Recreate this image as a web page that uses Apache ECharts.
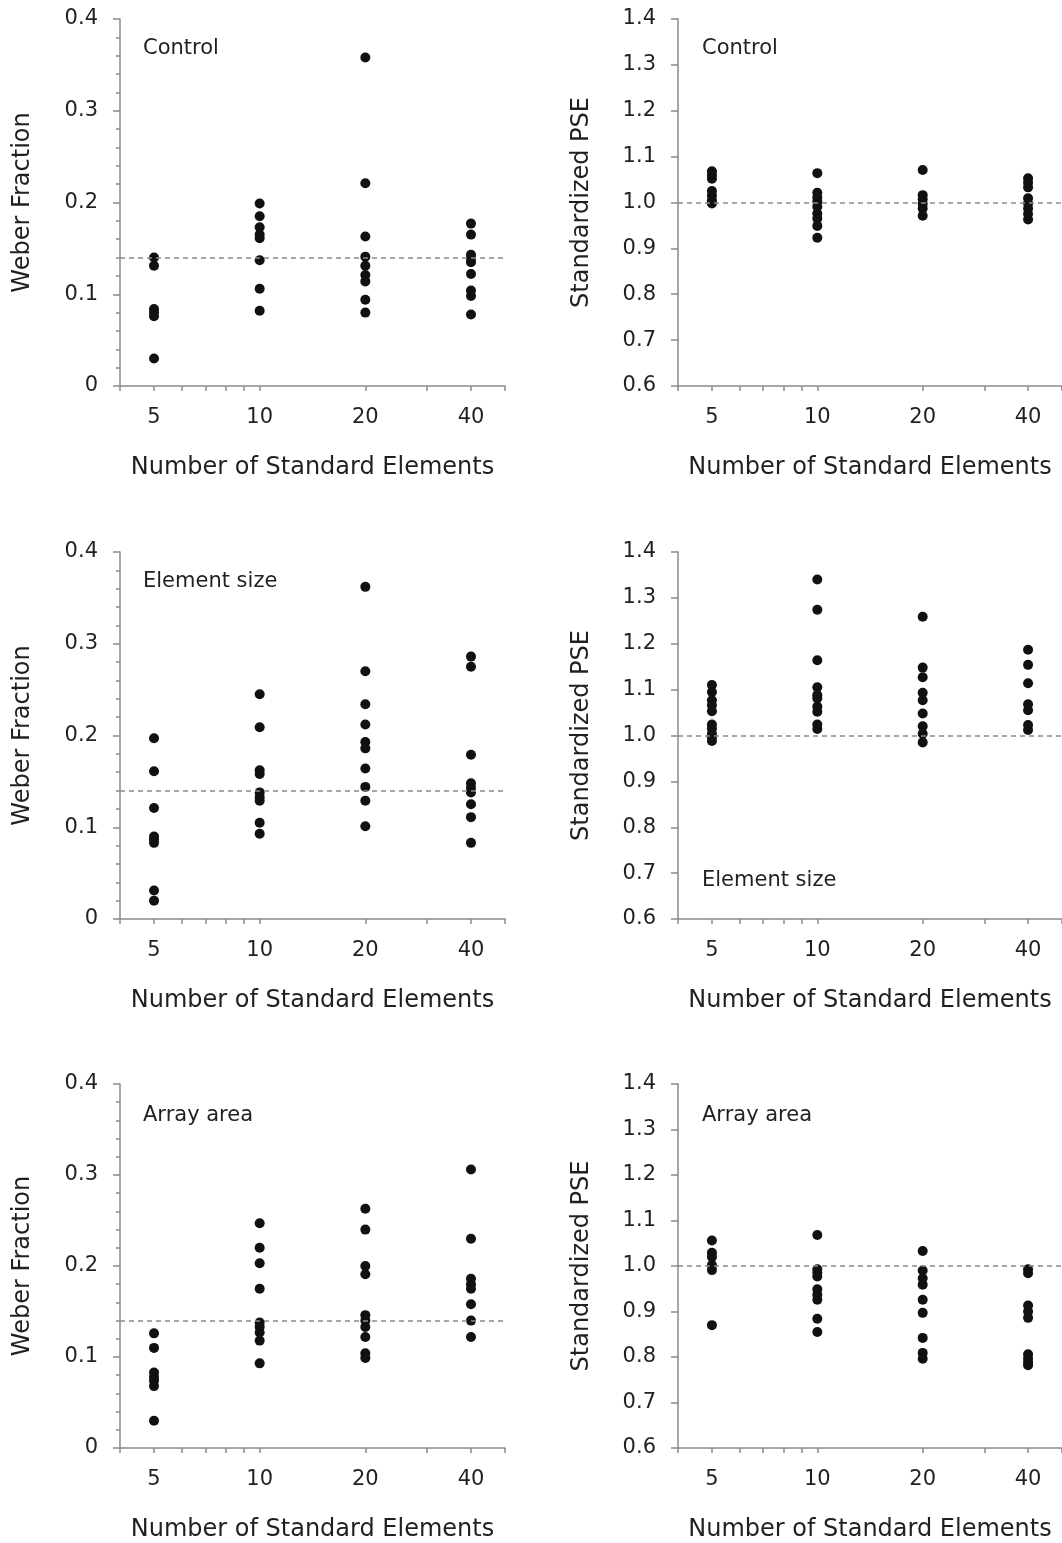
<!DOCTYPE html>
<html><head><meta charset="utf-8">
<script src="https://cdn.jsdelivr.net/npm/echarts@6/dist/echarts.min.js"></script>
<style>html,body{margin:0;padding:0;background:#fff}#c{width:1062px;height:1543px}</style>
</head><body><div id="c"></div>
<script>
// ---- data ----
const nValues = [5, 10, 20, 40];
const xLabelValues = [5, 10, 20, 40];
const xTickValues = [4, 5, 6, 7, 8, 9, 10, 20, 30, 40, 50];
const panelLabels = ['Control', 'Element size', 'Array area'];
const weberTitle = 'Weber Fraction';
const pseTitle = 'Standardized PSE';
const xTitle = 'Number of Standard Elements';
const weberRef = 0.141;
const pseRef = 1.0;

// Weber fraction, one list per N (5, 10, 20, 40)
const weberControl = [
  [0.140, 0.131, 0.084, 0.080, 0.076, 0.030],
  [0.199, 0.185, 0.173, 0.165, 0.161, 0.137, 0.106, 0.082],
  [0.358, 0.221, 0.163, 0.141, 0.131, 0.121, 0.114, 0.094, 0.080],
  [0.177, 0.165, 0.143, 0.139, 0.135, 0.122, 0.104, 0.098, 0.078]
];
const weberElement = [
  [0.197, 0.161, 0.121, 0.090, 0.087, 0.083, 0.031, 0.020],
  [0.245, 0.209, 0.162, 0.158, 0.138, 0.133, 0.129, 0.105, 0.093],
  [0.362, 0.270, 0.234, 0.212, 0.193, 0.186, 0.164, 0.144, 0.129, 0.101],
  [0.286, 0.275, 0.179, 0.148, 0.143, 0.138, 0.125, 0.111, 0.083]
];
const weberArray = [
  [0.126, 0.110, 0.083, 0.078, 0.074, 0.068, 0.030],
  [0.247, 0.220, 0.203, 0.175, 0.138, 0.133, 0.127, 0.118, 0.093],
  [0.263, 0.240, 0.200, 0.191, 0.146, 0.140, 0.133, 0.122, 0.104, 0.099],
  [0.306, 0.230, 0.186, 0.180, 0.175, 0.158, 0.140, 0.122]
];
// Standardized PSE, one list per N (5, 10, 20, 40)
const pseControl = [
  [1.068, 1.060, 1.052, 1.025, 1.015, 1.005, 0.998],
  [1.064, 1.021, 1.011, 1.002, 0.991, 0.976, 0.965, 0.949, 0.923],
  [1.071, 1.016, 1.007, 0.997, 0.987, 0.971],
  [1.053, 1.043, 1.033, 1.009, 0.998, 0.987, 0.975, 0.963]
];
const pseElement = [
  [1.110, 1.095, 1.077, 1.066, 1.053, 1.024, 1.015, 1.004, 0.996, 0.988],
  [1.340, 1.274, 1.164, 1.105, 1.088, 1.081, 1.063, 1.052, 1.024, 1.014],
  [1.259, 1.148, 1.127, 1.093, 1.077, 1.048, 1.020, 1.004, 0.985],
  [1.187, 1.154, 1.114, 1.068, 1.055, 1.023, 1.012]
];
const pseArray = [
  [1.056, 1.029, 1.020, 1.002, 0.991, 0.870],
  [1.068, 0.993, 0.985, 0.977, 0.949, 0.937, 0.926, 0.884, 0.855],
  [1.033, 0.990, 0.973, 0.959, 0.926, 0.897, 0.842, 0.809, 0.796],
  [0.993, 0.984, 0.913, 0.900, 0.886, 0.806, 0.796, 0.788, 0.782]
];

// ---- layout / style ----
const FONT = 'DejaVu Sans';
const TXT = '#231f20';
const AX = '#8a8a8a';
const rowsTop = [19, 552, 1084];
const gridH = 367;
const leftX = 120, leftW = 385;
const rightX = 678, rightW = 384;

const panels = [
  { col: 0, row: 0, data: weberControl, kind: 'w', label: panelLabels[0], lx: 143, ly: 38 },
  { col: 1, row: 0, data: pseControl,   kind: 'p', label: panelLabels[0], lx: 702, ly: 38 },
  { col: 0, row: 1, data: weberElement, kind: 'w', label: panelLabels[1], lx: 143, ly: 571 },
  { col: 1, row: 1, data: pseElement,   kind: 'p', label: panelLabels[1], lx: 702, ly: 870 },
  { col: 0, row: 2, data: weberArray,   kind: 'w', label: panelLabels[2], lx: 143, ly: 1105 },
  { col: 1, row: 2, data: pseArray,     kind: 'p', label: panelLabels[2], lx: 702, ly: 1105 }
];

const grid = [], xAxis = [], yAxis = [], series = [], title = [];
panels.forEach((p, i) => {
  grid.push({
    left: p.col === 0 ? leftX : rightX,
    top: rowsTop[p.row],
    width: p.col === 0 ? leftW : rightW,
    height: gridH,
    containLabel: false
  });
  xAxis.push({
    type: 'log', gridIndex: i, min: 4, max: 50, logBase: 10,
    name: xTitle, nameLocation: 'middle', nameGap: 70,
    nameTextStyle: { fontFamily: FONT, fontSize: 24, color: TXT },
    axisLine: { lineStyle: { color: AX, width: 1.5 } },
    axisTick: { show: true, length: 5, customValues: xTickValues, lineStyle: { color: AX, width: 1.5 } },
    axisLabel: { customValues: xLabelValues, margin: 21, fontFamily: FONT, fontSize: 21, color: TXT },
    splitLine: { show: false }, minorTick: { show: false }, minorSplitLine: { show: false }
  });
  const isW = p.kind === 'w';
  yAxis.push({
    type: 'value', gridIndex: i,
    min: isW ? 0 : 0.6, max: isW ? 0.4 : 1.4, interval: 0.1,
    name: isW ? weberTitle : pseTitle, nameLocation: 'middle', nameGap: isW ? 85 : 84, nameRotate: 90,
    nameTextStyle: { fontFamily: FONT, fontSize: 24, color: TXT },
    axisLine: { show: true, lineStyle: { color: AX, width: 1.5 } },
    axisTick: { show: true, length: 7, lineStyle: { color: AX, width: 1.5 } },
    minorTick: { show: isW, splitNumber: 5, length: 4, lineStyle: { color: AX, width: 1.5 } },
    axisLabel: {
      margin: 22, fontFamily: FONT, fontSize: 21, color: TXT,
      formatter: v => (Math.abs(v) < 1e-9 ? '0' : v.toFixed(1))
    },
    splitLine: { show: false }
  });
  const pts = [];
  nValues.forEach((n, k) => p.data[k].forEach(v => pts.push([n, v])));
  series.push({
    type: 'scatter', xAxisIndex: i, yAxisIndex: i, data: pts,
    symbol: 'circle', symbolSize: 10,
    itemStyle: { color: '#111', opacity: 1 },
    silent: true,
    markLine: {
      silent: true, symbol: 'none', label: { show: false },
      lineStyle: { color: '#8a8a8a', type: [5, 4], width: 1.5 },
      data: [{ yAxis: isW ? weberRef : pseRef }],
      animation: false
    },
    animation: false
  });
  title.push({
    text: p.label, left: p.lx, top: p.ly, padding: 0,
    textStyle: { fontFamily: FONT, fontSize: 21, fontWeight: 'normal', color: TXT }
  });
});

const chart = echarts.init(document.getElementById('c'), null, { renderer: 'canvas' });
chart.setOption({ backgroundColor: '#fff', animation: false, title, grid, xAxis, yAxis, series });
</script>
</body></html>
